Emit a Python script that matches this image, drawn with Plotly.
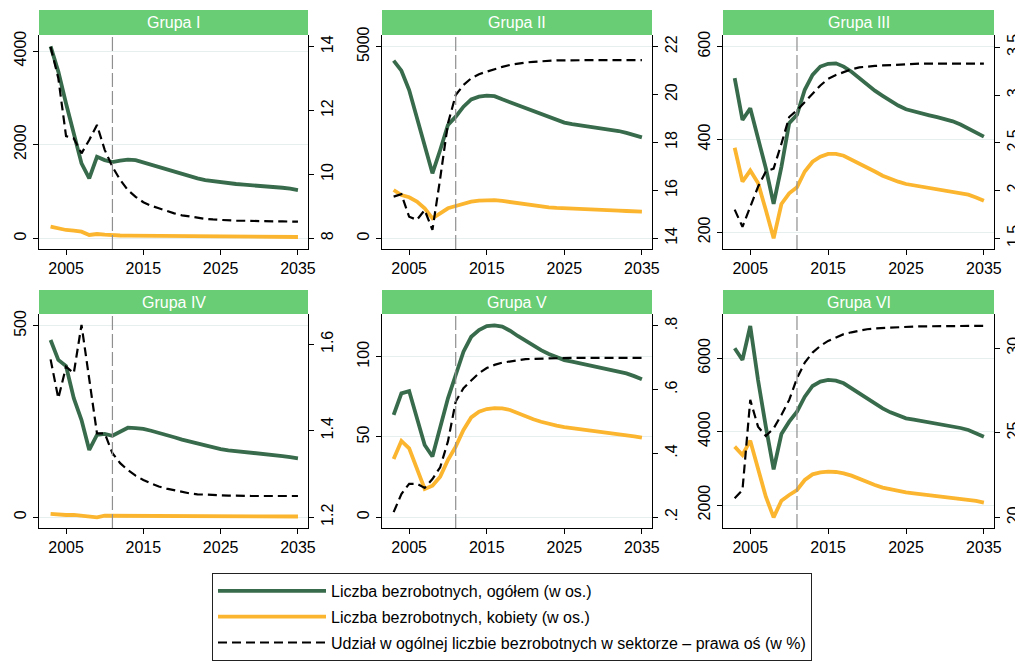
import plotly.graph_objects as go

# lata 2003-2035
years = list(range(2003, 2036))

groups = ['Grupa I', 'Grupa II', 'Grupa III', 'Grupa IV', 'Grupa V', 'Grupa VI']

# Grupa I
g1_total = [4100, 3560, 2880, 2240, 1600, 1280, 1740, 1670, 1630, 1660, 1680, 1670, 1620, 1580,
            1530, 1480, 1420, 1370, 1320, 1280, 1245, 1220, 1200, 1180, 1160, 1145, 1135, 1125,
            1110, 1095, 1080, 1060, 1030]
g1_women = [250, 213, 178, 164, 142, 71, 92, 78, 64, 60, 58, 57, 57, 56, 55, 50, 45, 43, 43, 42,
            42, 41, 40, 40, 39, 30, 28, 28, 28, 28, 28, 28, 28]
g1_share = [14.0, 13.01, 11.2, 11.13, 10.66, 11.08, 11.55, 10.77, 10.24, 9.83, 9.51, 9.30, 9.13,
            9.02, 8.94, 8.85, 8.78, 8.72, 8.68, 8.64, 8.61, 8.59, 8.57, 8.56, 8.55, 8.55, 8.54,
            8.54, 8.54, 8.53, 8.53, 8.52, 8.52]

# Grupa II
g2_total = [4635, 4374, 3870, 3174, 2478, 1696, 2304, 2957, 3174, 3435, 3626, 3696, 3722, 3710,
            3626, 3550, 3478, 3400, 3305, 3230, 3160, 3090, 3020, 2980, 2950, 2920, 2895, 2870,
            2840, 2800, 2750, 2695, 2635]
g2_women = [1261, 1130, 1070, 957, 783, 522, 652, 783, 843, 913, 957, 985, 1000, 995, 974, 945,
            913, 880, 852, 830, 809, 795, 783, 775, 768, 762, 757, 745, 735, 722, 712, 704, 696]
g2_share = [15.74, 15.84, 14.90, 14.77, 15.18, 14.35, 16.5, 18.8, 19.98, 20.4, 20.68, 20.85, 20.96,
            21.07, 21.16, 21.24, 21.30, 21.34, 21.37, 21.40, 21.42, 21.43, 21.43, 21.44, 21.44,
            21.44, 21.44, 21.44, 21.44, 21.44, 21.44, 21.44, 21.44]

# Grupa III
g3_total = [532, 442, 467, 406, 338, 261, 341, 435, 453, 507, 539, 557, 563, 564, 557, 546, 532,
            517, 505, 494, 483, 473, 465, 460, 456, 452, 448, 444, 439, 432, 424, 415, 406]
g3_women = [382, 309, 333, 306, 248, 187, 261, 284, 297, 331, 352, 363, 369, 369, 365, 357, 349,
            339, 331, 322, 315, 309, 304, 301, 298, 295, 293, 291, 288, 285, 281, 275, 268]
g3_share = [1.80, 1.62, 1.83, 2.04, 2.20, 2.23, 2.49, 2.77, 2.84, 2.93, 3.02, 3.10, 3.17, 3.21,
            3.24, 3.27, 3.29, 3.30, 3.305, 3.31, 3.315, 3.32, 3.32, 3.325, 3.33, 3.33, 3.33, 3.33,
            3.33, 3.33, 3.33, 3.33, 3.33]

# Grupa IV
g4_total = [463, 411, 395, 311, 254, 176, 215, 218, 213, 224, 234, 233, 231, 226, 221, 215, 209,
            203, 198, 192, 187, 182, 178, 175, 173, 171, 170, 168, 166, 163, 160, 157, 154]
g4_women = [9, 7, 6, 6, 4, 2, 0, 4, 4, 4, 4, 4, 4, 4, 4, 4, 4, 4, 4, 4, 4, 2, 2, 2, 2, 2, 2, 2,
            2, 2, 2, 2, 2]
g4_share = [1.565, 1.475, 1.548, 1.533, 1.645, 1.52, 1.394, 1.394, 1.348, 1.325, 1.309, 1.296,
            1.286, 1.278, 1.271, 1.266, 1.262, 1.258, 1.255, 1.253, 1.252, 1.251, 1.251, 1.25,
            1.25, 1.249, 1.249, 1.249, 1.249, 1.249, 1.249, 1.249, 1.249]

# Grupa V
g5_total = [63.7, 77.2, 78.6, 61.0, 45.0, 37.8, 56.4, 74.1, 88.6, 103.1, 112.4, 116.6, 119.1,
            119.5, 118.7, 116.2, 112.9, 109.8, 106.8, 104.1, 101.7, 99.6, 97.9, 96.9, 95.9, 95.0,
            94.2, 93.2, 92.1, 90.9, 89.6, 87.9, 85.9]
g5_women = [36.3, 47.5, 42.9, 30.5, 17.6, 19.7, 25.3, 35.7, 44.0, 54.4, 62.2, 65.8, 67.4, 68.0,
            67.8, 66.8, 64.7, 62.7, 61.0, 59.5, 58.1, 57.1, 56.2, 55.6, 55.0, 54.4, 53.9, 53.3,
            52.7, 52.0, 51.2, 50.4, 49.6]
g5_share = [0.216, 0.273, 0.305, 0.305, 0.292, 0.320, 0.357, 0.438, 0.563, 0.605, 0.629, 0.652,
            0.668, 0.678, 0.685, 0.689, 0.693, 0.696, 0.697, 0.698, 0.698, 0.699, 0.699, 0.70,
            0.70, 0.70, 0.70, 0.70, 0.70, 0.70, 0.70, 0.70, 0.70]

# Grupa VI
g6_total = [6273, 5955, 6882, 5409, 4136, 2973, 3936, 4273, 4545, 4955, 5245, 5364, 5409, 5391,
            5318, 5182, 5027, 4891, 4755, 4636, 4527, 4436, 4364, 4327, 4291, 4259, 4227, 4191,
            4155, 4100, 4045, 3960, 3864]
g6_women = [3591, 3364, 3755, 2955, 2227, 1664, 2118, 2273, 2409, 2682, 2836, 2891, 2909, 2900,
            2864, 2800, 2709, 2618, 2545, 2473, 2427, 2382, 2345, 2318, 2291, 2273, 2255, 2232,
            2209, 2182, 2155, 2110, 2064]
g6_share = [21.14, 21.63, 26.95, 25.37, 24.82, 25.27, 26.06, 26.95, 28.23, 29.15, 29.74, 30.14,
            30.43, 30.65, 30.83, 30.94, 31.04, 31.12, 31.17, 31.20, 31.23, 31.25, 31.26, 31.28,
            31.29, 31.30, 31.31, 31.32, 31.32, 31.32, 31.32, 31.32, 31.32]

totals = [g1_total, g2_total, g3_total, g4_total, g5_total, g6_total]
women = [g1_women, g2_women, g3_women, g4_women, g5_women, g6_women]
shares = [g1_share, g2_share, g3_share, g4_share, g5_share, g6_share]

left_ticks = [[0, 2000, 4000], [0, 5000], [200, 400, 600], [0, 500], [0, 50, 100], [2000, 4000, 6000]]
right_ticks = [[8, 10, 12, 14], [14, 16, 18, 20, 22], [1.5, 2, 2.5, 3, 3.5], [1.2, 1.4, 1.6],
               [0.2, 0.4, 0.6, 0.8], [20, 25, 30]]
right_labels = [None, None, None, None, ['.2', '.4', '.6', '.8'], None]
x_ticks = [2005, 2015, 2025, 2035]
forecast_year = 2011

names = ['Liczba bezrobotnych, ogółem (w os.)',
         'Liczba bezrobotnych, kobiety (w os.)',
         'Udział w ogólnej liczbie bezrobotnych w sektorze – prawa oś (w %)']

GREEN = '#386b4b'
ORANGE = '#fbb52f'
STRIP = '#68cd74'
FONT = 'Liberation Sans, Arial, sans-serif'

# strona html ma margines 8px, więc figura jest o tyle mniejsza i przesunięta
OFF = 8
W, H = 1023 - OFF, 661 - OFF


def px(x):
    return (x - OFF) / W


def py(y):
    return 1 - (y - OFF) / H


left_range = [[-228, 4342], [-279, 5305], [164, 625], [-28, 531], [-6.7, 126.6], [1373, 7208]]
right_range = [[7.665, 14.366], [13.553, 22.489], [1.388, 3.629], [1.175, 1.670],
               [0.1664, 0.8376], [19.39, 32.02]]

col_px = [(39, 308), (382, 652), (723, 994)]
row_px = [(35, 249), (314, 528)]
strip_px = [(10, 35), (290, 314)]

fig = go.Figure()
layout = {}
shapes = []
annotations = []

for i in range(6):
    r, c = divmod(i, 3)
    xn = '' if i == 0 else str(i + 1)
    yln = '' if i == 0 else str(2 * i + 1)
    yrn = str(2 * i + 2)
    xdom = [px(col_px[c][0]), px(col_px[c][1])]
    ydom = [py(row_px[r][1]), py(row_px[r][0])]

    fig.add_trace(go.Scatter(x=years, y=totals[i], mode='lines', name=names[0],
                             legendgroup='total', showlegend=(i == 0),
                             line=dict(color=GREEN, width=3.8),
                             xaxis='x' + xn, yaxis='y' + yln))
    fig.add_trace(go.Scatter(x=years, y=women[i], mode='lines', name=names[1],
                             legendgroup='women', showlegend=(i == 0),
                             line=dict(color=ORANGE, width=3.8),
                             xaxis='x' + xn, yaxis='y' + yln))
    fig.add_trace(go.Scatter(x=years, y=shares[i], mode='lines', name=names[2],
                             legendgroup='share', showlegend=(i == 0),
                             line=dict(color='black', width=2.2, dash='9px,5px'),
                             xaxis='x' + xn, yaxis='y' + yrn))

    common = dict(ticks='outside', ticklen=5, tickwidth=1.2, tickcolor='black',
                  showline=True, linecolor='black', linewidth=1.3, zeroline=False,
                  automargin=False, tickfont=dict(size=16, color='black'))
    layout['xaxis' + xn] = dict(domain=xdom, anchor='y' + yln, range=[2001.5, 2036.3],
                                tickvals=x_ticks, showgrid=False, **common)
    layout['yaxis' + yln] = dict(domain=ydom, anchor='x' + xn, range=left_range[i],
                                 tickvals=left_ticks[i], tickangle=-90, showgrid=True,
                                 gridcolor='#e6eeee', gridwidth=1, **common)
    right = dict(overlaying='y' + yln, side='right', anchor='x' + xn, range=right_range[i],
                 tickvals=right_ticks[i], tickangle=-90, showgrid=False, **common)
    if right_labels[i]:
        right['ticktext'] = right_labels[i]
    layout['yaxis' + yrn] = right

    # linia pionowa - początek prognozy
    shapes.append(dict(type='line', xref='x' + xn, yref='y' + yln + ' domain',
                       x0=forecast_year, x1=forecast_year, y0=0, y1=1,
                       line=dict(color='#8f8f8f', width=1.2, dash='14px,4px')))
    # pasek z nazwą grupy
    shapes.append(dict(type='rect', xref='paper', yref='paper',
                       x0=xdom[0], x1=xdom[1],
                       y0=py(strip_px[r][1]), y1=py(strip_px[r][0]),
                       fillcolor=STRIP, line=dict(width=0)))
    annotations.append(dict(text=groups[i], xref='paper', yref='paper',
                            x=(xdom[0] + xdom[1]) / 2, xanchor='center',
                            y=py((strip_px[r][0] + strip_px[r][1]) / 2), yanchor='middle',
                            showarrow=False, font=dict(size=16, color='white')))

fig.update_layout(**layout)
fig.update_layout(
    width=W, height=H, autosize=False,
    margin=dict(l=0, r=0, t=0, b=0, pad=0),
    paper_bgcolor='white', plot_bgcolor='white',
    font=dict(family=FONT, color='black'),
    shapes=shapes, annotations=annotations,
    showlegend=True,
    legend=dict(x=px(212), y=py(573), xanchor='left', yanchor='top',
                bordercolor='#222', borderwidth=1, bgcolor='white',
                font=dict(size=16, color='black'), itemwidth=108,
                tracegroupgap=2),
)

fig.write_html('out.html')
